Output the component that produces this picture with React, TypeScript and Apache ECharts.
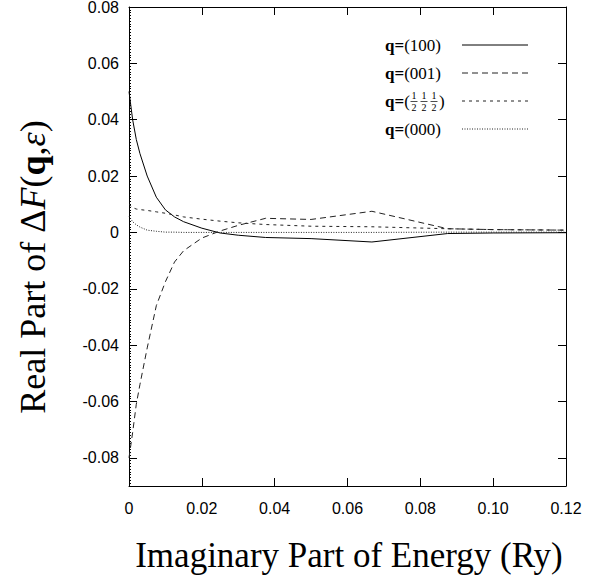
import React, { useEffect, useRef } from "react";
import * as echarts from "echarts";

// Imaginary part of energy (Ry)
const xValues = [0, 0.001, 0.002, 0.003, 0.005, 0.0075, 0.01, 0.0125, 0.015, 0.02, 0.025, 0.03, 0.0375, 0.05, 0.0667, 0.0875, 0.1, 0.12];
// q=(100) solid
const q100 = [0.05, 0.04, 0.033, 0.028, 0.02, 0.0125, 0.008, 0.0055, 0.0038, 0.0015, -0.0002, -0.001, -0.0018, -0.0022, -0.0034, -0.0004, -0.0002, -0.0001];
// q=(001) long dash
const q001 = [-0.08, -0.071, -0.061, -0.054, -0.041, -0.026, -0.0175, -0.0105, -0.0065, -0.002, 0.0005, 0.0025, 0.005, 0.0046, 0.0075, 0.0013, 0.001, 0.0008];
// q=(1/2 1/2 1/2) short dash
const qHalf = [0.01, 0.0088, 0.0083, 0.0081, 0.0078, 0.0073, 0.0068, 0.0062, 0.0055, 0.0047, 0.004, 0.0034, 0.0028, 0.0022, 0.002, 0.0013, 0.001, 0.0008];
// q=(000) dotted
const q000 = [0.0058, 0.0038, 0.0027, 0.0019, 0.0008, 0.0004, 0.0001, 0.0001, 0, 0, 0, 0, 0, 0, 0, 0.0001, 0.0001, 0.0001];

const xTicks = [0, 0.02, 0.04, 0.06, 0.08, 0.1, 0.12];
const yTicks = [-0.08, -0.06, -0.04, -0.02, 0, 0.02, 0.04, 0.06, 0.08];

const SERIF = "'Liberation Serif', 'DejaVu Serif', serif";
const SANS = "'Liberation Sans', Arial, sans-serif";

const fmt = (v: number) => (Math.abs(v) < 1e-9 ? "0" : v.toFixed(2));

export default function App() {
  const ref = useRef<HTMLDivElement>(null);
  useEffect(() => {
    if (!ref.current) return;
    const chart = echarts.init(ref.current, null, { renderer: "svg" });
    const minorTicks: number[] = [];
    for (let i = -90; i <= 80; i++) minorTicks.push(i / 1000);

    const styles: { name: string; data: number[]; type: any; color: string }[] = [
      { name: "q=(100)", data: q100, type: "solid", color: "#000" },
      { name: "q=(001)", data: q001, type: [6, 4], color: "#222" },
      { name: "q=(½½½)", data: qHalf, type: [3, 4], color: "#222" },
      { name: "q=(000)", data: q000, type: [1, 1.5], color: "#222" },
    ];

    const legendX = 385;
    const rowsY = [45, 73, 101, 129];
    const graphics: any[] = [];
    const FS = 17;
    const textRich = {
      b: { fontFamily: SERIF, fontWeight: "bold", fontSize: FS, fill: "#000" },
      n: { fontFamily: SERIF, fontSize: FS, fill: "#000" },
    };
    const plain: Record<number, string> = { 0: "(100)", 1: "(001)", 3: "(000)" };
    rowsY.forEach((y, i) => {
      if (i !== 2) {
        graphics.push({
          type: "text",
          x: legendX,
          y,
          style: { text: `{b|q=}{n|${plain[i]}}`, rich: textRich, verticalAlign: "middle", align: "left" },
        });
      } else {
        graphics.push({
          type: "text",
          x: legendX,
          y,
          style: { text: "{b|q=}{n|(}", rich: textRich, verticalAlign: "middle", align: "left" },
        });
        [414, 424, 434].forEach((fx) => {
          graphics.push({ type: "text", x: fx, y: y - 6, style: { text: "1", fontFamily: SERIF, fontSize: 10, fill: "#000", align: "center", verticalAlign: "middle" } });
          graphics.push({ type: "text", x: fx, y: y + 6, style: { text: "2", fontFamily: SERIF, fontSize: 10, fill: "#000", align: "center", verticalAlign: "middle" } });
          graphics.push({ type: "line", shape: { x1: fx - 3.5, y1: y + 0.5, x2: fx + 3.5, y2: y + 0.5 }, style: { stroke: "#000", lineWidth: 0.7 } });
        });
        graphics.push({ type: "text", x: 439, y, style: { text: ")", fontFamily: SERIF, fontSize: FS, fill: "#000", verticalAlign: "middle", align: "left" } });
      }
      const s = styles[i];
      graphics.push({
        type: "line",
        shape: { x1: 462, y1: y, x2: 528, y2: y },
        style: { stroke: s.color, lineWidth: 1, lineDash: s.type === "solid" ? null : s.type },
      });
    });

    graphics.push({
      type: "text",
      x: 33,
      y: 267,
      rotation: Math.PI / 2,
      style: {
        text: "{n|Real Part of Δ}{i|F}{n|(}{b|q}{n|,}{i|ε}{n|)}",
        align: "center",
        verticalAlign: "middle",
        rich: {
          n: { fontFamily: SERIF, fontSize: 36, fill: "#000" },
          i: { fontFamily: SERIF, fontSize: 36, fontStyle: "italic", fill: "#000" },
          b: { fontFamily: SERIF, fontSize: 36, fontWeight: "bold", fill: "#000" },
        },
      },
    });
    graphics.push({
      type: "text",
      x: 349,
      y: 555,
      style: {
        text: "Imaginary Part of Energy (Ry)",
        fontFamily: SERIF,
        fontSize: 35,
        fill: "#000",
        align: "center",
        verticalAlign: "middle",
      },
    });

    const axisLine = { show: true, onZero: false, lineStyle: { color: "#000", width: 1 } };
    const yBase = { type: "value" as const, min: -0.09, max: 0.08, splitLine: { show: false } };

    chart.setOption({
      animation: false,
      backgroundColor: "#fff",
      grid: { left: 129, right: 42, top: 7, bottom: 94, outerBoundsMode: "none" },
      xAxis: [
        {
          type: "value",
          min: 0,
          max: 0.12,
          interval: 0.02,
          position: "bottom",
          axisLine,
          axisTick: { inside: true, length: 8, lineStyle: { color: "#000" }, customValues: xTicks },
          axisLabel: { customValues: xTicks, formatter: fmt, fontFamily: SANS, fontSize: 16, color: "#000", margin: 14 },
          splitLine: { show: false },
        },
        {
          type: "value",
          min: 0,
          max: 0.12,
          interval: 0.02,
          position: "top",
          axisLine,
          axisTick: { inside: true, length: 8, lineStyle: { color: "#000" }, customValues: xTicks },
          axisLabel: { show: false },
          splitLine: { show: false },
        },
      ],
      yAxis: [
        {
          ...yBase,
          position: "left",
          axisLine,
          axisTick: { inside: true, length: 8, lineStyle: { color: "#000" }, customValues: yTicks },
          axisLabel: { customValues: yTicks, formatter: fmt, fontFamily: SANS, fontSize: 16, color: "#000", margin: 10 },
        },
        {
          ...yBase,
          position: "right",
          axisLine,
          axisTick: { inside: true, length: 8, lineStyle: { color: "#000" }, customValues: yTicks },
          axisLabel: { show: false },
        },
        {
          ...yBase,
          position: "left",
          offset: 0,
          axisLine: { show: false },
          axisTick: { inside: true, length: 2, lineStyle: { color: "#000" }, customValues: minorTicks },
          axisLabel: { show: false },
        },
      ],
      series: styles.map((s) => ({
        name: s.name,
        type: "line",
        xAxisIndex: 0,
        yAxisIndex: 0,
        showSymbol: false,
        symbol: "none",
        silent: true,
        data: xValues.map((x, i) => [x, s.data[i]]),
        lineStyle: { color: s.color, width: 1, type: s.type },
      })),
      graphic: graphics,
    });
    return () => chart.dispose();
  }, []);
  return <div ref={ref} style={{ position: "absolute", left: 0, top: 0, width: 608, height: 580 }} />;
}
